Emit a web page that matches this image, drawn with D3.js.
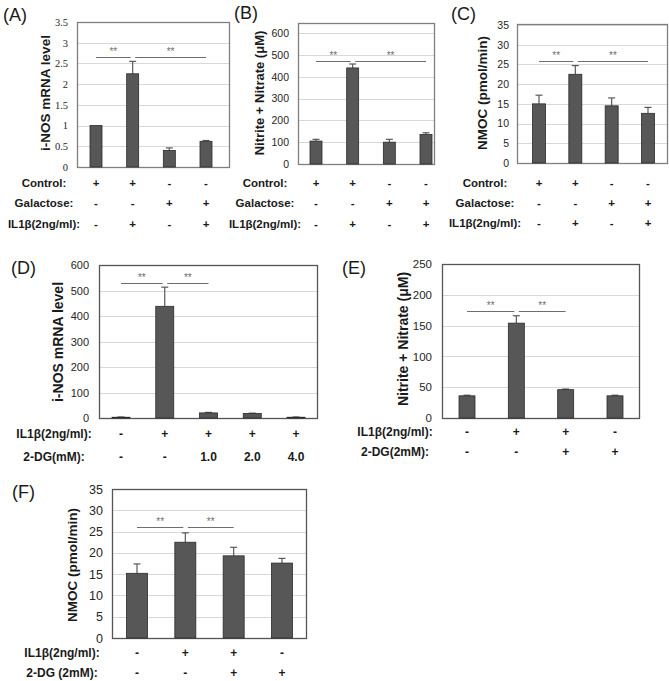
<!DOCTYPE html>
<html><head><meta charset="utf-8">
<script src="https://cdn.jsdelivr.net/npm/d3@7"></script>
<style>body{margin:0;background:#fff}svg{display:block}</style>
</head><body>
<script>
// ---------- DATA ----------
const aValues=[1.0,2.25,0.40,0.62];
const aErrors=[0,0.30,0.06,0.02];
const aTicks=[0,0.5,1,1.5,2,2.5,3,3.5];
const aSig=[[0,1,2.65],[1,3,2.65]];

const bValues=[105,440,100,135];
const bErrors=[8,18,13,8];
const bTicks=[0,100,200,300,400,500,600];
const bSig=[[0,1,472],[1,3,472]];

const cValues=[15.0,22.5,14.5,12.6];
const cErrors=[2.2,2.2,2.0,1.5];
const cTicks=[0,5,10,15,20,25,30,35];
const cSig=[[0,1,25.9],[1,3,25.9]];

const abcRowLabels=["Control:","Galactose:","IL1β(2ng/ml):"];
const abcControl=["+","+","-","-"];
const abcGalactose=["-","-","+","+"];
const abcIL1b=["-","+","-","+"];

const dValues=[3,438,20,18,3];
const dErrors=[1,75,2,1,1];
const dTicks=[0,100,200,300,400,500,600];
const dSig=[[0,1,531],[1,2,531]];
const dRowLabels=["IL1β(2ng/ml):","2-DG(mM):"];
const dIL1b=["-","+","+","+","+"];
const dDG=["-","-","1.0","2.0","4.0"];

const eValues=[36,154,46,36];
const eErrors=[1,12,1,1];
const eTicks=[0,50,100,150,200,250];
const eSig=[[0,1,174],[1,2,174]];
const eRowLabels=["IL1β(2ng/ml):","2-DG(2mM):"];
const eIL1b=["-","+","+","-"];
const eDG=["-","-","+","+"];

const fValues=[15.2,22.5,19.3,17.6];
const fErrors=[2.2,2.2,2.0,1.1];
const fTicks=[0,5,10,15,20,25,30,35];
const fSig=[[0,1,26.1],[1,2,26.1]];
const fRowLabels=["IL1β(2ng/ml):","2-DG (2mM):"];
const fIL1b=["-","+","+","-"];
const fDG=["-","-","+","+"];

// ---------- DRAW ----------
const W=669,H=681;
const svg=d3.select("body").append("svg").attr("width",W).attr("height",H)
  .style("font-family","Arial, 'Liberation Sans', sans-serif");

function drawPanel(c){
  const g=svg.append("g");
  const y=d3.scaleLinear().domain([0,c.ticks[c.ticks.length-1]]).range([c.bottom,c.tickTop]);
  const x=d3.scalePoint().domain(d3.range(c.values.length)).range([c.xFirst,c.xLast]);

  g.selectAll(".grid").data(c.ticks.filter(t=>t>0)).join("line")
    .attr("x1",c.left).attr("x2",c.right)
    .attr("y1",d=>Math.round(y(d))+0.5).attr("y2",d=>Math.round(y(d))+0.5)
    .attr("stroke","#d9d9d9").attr("stroke-width",1);

  g.append("rect").attr("x",c.left+0.5).attr("y",c.top+0.5)
    .attr("width",c.right-c.left).attr("height",c.bottom-c.top)
    .attr("fill","none").attr("stroke",c.frame||"#7f7f7f").attr("stroke-width",1.3);

  const ax=g.append("g").attr("transform",`translate(${c.left},0)`)
    .call(d3.axisLeft(y).tickValues(c.ticks).tickSize(0).tickPadding(c.tickPad).tickFormat(d=>String(d)));
  ax.select(".domain").remove();
  ax.selectAll("text").attr("font-family",c.tickFont||"Arial, 'Liberation Sans', sans-serif")
    .attr("font-size",c.tickSize).attr("fill","#262626");

  // error bars
  c.values.forEach((v,i)=>{
    const e=c.errors[i];
    if(e>0){
      const cx=x(i), yt=y(v+e);
      g.append("line").attr("x1",cx).attr("x2",cx).attr("y1",y(v)).attr("y2",yt)
        .attr("stroke","#595959").attr("stroke-width",1.2);
      g.append("line").attr("x1",cx-3.5).attr("x2",cx+3.5).attr("y1",yt).attr("y2",yt)
        .attr("stroke","#595959").attr("stroke-width",1.2);
    }
  });
  // bars
  g.selectAll(".bar").data(c.values).join("rect")
    .attr("x",(d,i)=>x(i)-c.barW/2).attr("width",c.barW)
    .attr("y",d=>y(d)).attr("height",d=>c.bottom-y(d))
    .attr("fill","#575757").attr("stroke","#2b2b2b").attr("stroke-width",0.8);

  // significance
  c.sig.forEach(([i,j,v],k)=>{
    const x1=k===0?x(i):x(i)+2.5, x2=k===0?x(j)-2:x(j);
    const yy=Math.round(y(v))+0.5;
    g.append("line").attr("x1",x1).attr("x2",x2).attr("y1",yy).attr("y2",yy)
      .attr("stroke","#6e6e6e").attr("stroke-width",1.1);
    g.append("text").attr("x",(x1+x2)/2).attr("y",yy-3).attr("text-anchor","middle")
      .attr("font-size",10).attr("fill","#6e6e6e").text("**");
  });

  // y label
  g.append("text").attr("transform",`translate(${c.yLabelX},${c.yLabelCY}) rotate(-90)`)
    .attr("text-anchor","middle").attr("dominant-baseline","central")
    .attr("font-weight","bold").attr("font-size",c.yLabelSize).attr("fill","#1a1a1a").text(c.yLabel);

  // rows
  c.rows.forEach((r,ri)=>{
    const ry=c.rowYs[ri];
    g.append("text").attr("x",c.rowLabelX).attr("y",ry).attr("text-anchor","middle")
      .attr("dominant-baseline","central").attr("font-weight","bold").attr("font-size",c.rowSize)
      .attr("fill","#1a1a1a").text(c.rowLabels[ri]);
    g.selectAll(null).data(r).join("text")
      .attr("x",(d,i)=>x(i)).attr("y",ry).attr("text-anchor","middle").attr("dominant-baseline","central")
      .attr("font-weight","bold").attr("font-size",c.rowSize).attr("fill","#1a1a1a").text(d=>d);
  });

  // panel letter
  g.append("text").attr("x",c.letterX).attr("y",c.letterY).attr("dominant-baseline","central")
    .attr("font-size",18).attr("fill","#1a1a1a").text(c.letter);
}

drawPanel({letter:"(A)",letterX:3,letterY:15,values:aValues,errors:aErrors,ticks:aTicks,sig:aSig,
  left:77,right:229,top:22,bottom:167,tickTop:22,xFirst:96,xLast:206,barW:12,
  tickPad:9,tickSize:10.5,tickFont:"'Liberation Serif', 'Times New Roman', serif",
  yLabel:"i-NOS mRNA level",yLabelX:45,yLabelCY:93,yLabelSize:13.5,
  rows:[abcControl,abcGalactose,abcIL1b],rowLabels:abcRowLabels,rowYs:[183,203,224],rowLabelX:44,rowSize:11.5});

drawPanel({letter:"(B)",letterX:234,letterY:13,values:bValues,errors:bErrors,ticks:bTicks,sig:bSig,
  left:298,right:434,top:23,bottom:164,tickTop:33,xFirst:316,xLast:426,barW:12,
  tickPad:9,tickSize:10.5,
  yLabel:"Nitrite + Nitrate (μM)",yLabelX:259,yLabelCY:93,yLabelSize:13,
  rows:[abcControl,abcGalactose,abcIL1b],rowLabels:abcRowLabels,rowYs:[183,203,224],rowLabelX:265,rowSize:11.5});

drawPanel({letter:"(C)",letterX:451,letterY:14,values:cValues,errors:cErrors,ticks:cTicks,sig:cSig,
  left:517,right:667,top:24,bottom:163,tickTop:25,xFirst:539,xLast:648,barW:13,
  tickPad:8,tickSize:10.5,
  yLabel:"NMOC (pmol/min)",yLabelX:482,yLabelCY:93,yLabelSize:13.5,
  rows:[abcControl,abcGalactose,abcIL1b],rowLabels:abcRowLabels,rowYs:[183,203,223],rowLabelX:485,rowSize:11.5});

drawPanel({letter:"(D)",letterX:11,letterY:268,values:dValues,errors:dErrors,ticks:dTicks,sig:dSig,
  left:99,right:317,top:265,bottom:418,tickTop:265,xFirst:121,xLast:296,barW:18,
  tickPad:10,tickSize:11,frame:"#555",
  yLabel:"i-NOS mRNA level",yLabelX:58,yLabelCY:342,yLabelSize:14,
  rows:[dIL1b,dDG],rowLabels:dRowLabels,rowYs:[434,457],rowLabelX:54,rowSize:12});

drawPanel({letter:"(E)",letterX:342,letterY:268,values:eValues,errors:eErrors,ticks:eTicks,sig:eSig,
  left:442,right:639,top:264,bottom:418,tickTop:264,xFirst:467,xLast:615,barW:16,
  tickPad:10,tickSize:11.5,frame:"#555",
  yLabel:"Nitrite + Nitrate (μM)",yLabelX:403,yLabelCY:339,yLabelSize:14,
  rows:[eIL1b,eDG],rowLabels:eRowLabels,rowYs:[432,452],rowLabelX:395,rowSize:12});

drawPanel({letter:"(F)",letterX:12,letterY:492,values:fValues,errors:fErrors,ticks:fTicks,sig:fSig,
  left:112,right:306,top:489,bottom:638,tickTop:489,xFirst:137,xLast:282,barW:21,
  tickPad:9,tickSize:12.5,frame:"#555",
  yLabel:"NMOC (pmol/min)",yLabelX:72,yLabelCY:565,yLabelSize:13.5,
  rows:[fIL1b,fDG],rowLabels:fRowLabels,rowYs:[653,673],rowLabelX:62,rowSize:12});
</script>
</body></html>
